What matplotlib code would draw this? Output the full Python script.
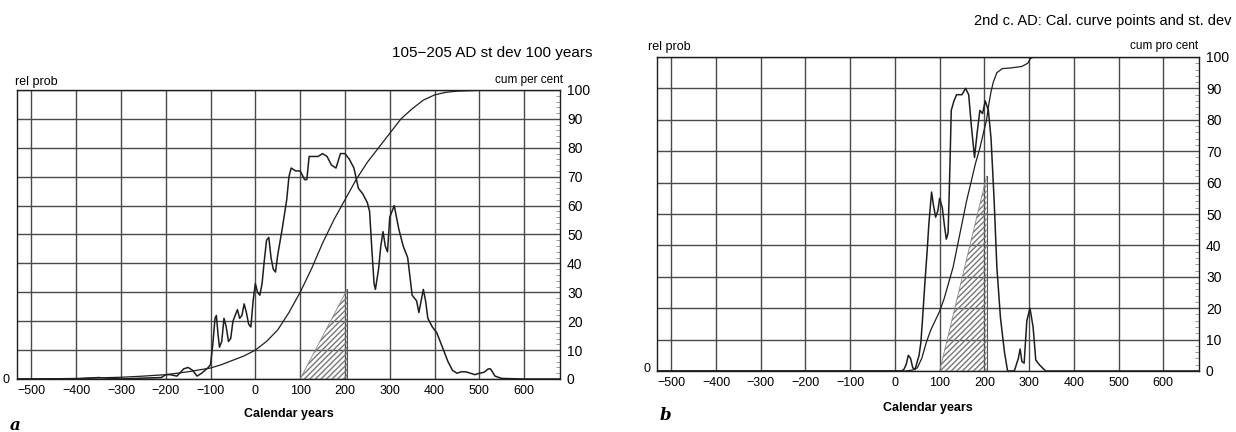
import numpy as np
import matplotlib.pyplot as plt
from matplotlib.ticker import MultipleLocator

plt.rcParams['font.family'] = ['Liberation Sans', 'DejaVu Sans']

# ---- panel a: 105-205 AD, st dev 100 years ----
a_years = [-530, -400, -350, -330, -300, -250, -210, -200, -190, -175, -160, -150, -140,
           -130, -120, -105, -100, -95, -90, -87, -83, -80, -75, -70, -65, -60, -55,
           -50, -40, -35, -30, -25, -20, -15, -10, -5, 0, 5, 10, 15, 20, 25, 30, 35,
           40, 45, 50, 60, 70, 75, 80, 90, 100, 110, 115, 120, 130, 140, 150, 160,
           170, 180, 190, 200, 210, 220, 230, 240, 250, 255, 260, 265, 268, 275, 280,
           285, 290, 295, 300, 310, 320, 330, 340, 350, 360, 365, 370, 375, 380, 385,
           395, 405, 420, 430, 440, 450, 460, 470, 490, 500, 510, 520, 525, 535, 550,
           600, 680]
a_prob = [0, 0, 0.5, 0.3, 0, 0.3, 0.5, 1.5, 1.5, 1, 3.5, 4, 3,
          1, 2, 4, 5, 12, 21, 22, 15, 11, 13, 21, 18, 13, 14,
          20, 24, 21, 22, 26, 23, 19, 18, 27, 33, 30, 29, 33, 41, 48, 49, 42,
          38, 37, 43, 52, 62, 70, 73, 72, 72, 69, 69, 77, 77, 77, 78, 77,
          74, 73, 78, 78, 76, 73, 66, 64, 61, 58, 45, 33, 31, 38, 46,
          51, 46, 44, 56, 60, 52, 46, 42, 29, 27, 23, 27, 31, 27, 21,
          18, 16, 10, 6, 3, 2, 2.5, 2.5, 1.5, 2, 2.3, 3.5, 3.5, 1, 0.2,
          0, 0]
a_cum_years = [-530, -450, -400, -350, -300, -250, -200, -150, -100, -75, -50, -25, 0,
               25, 50, 75, 100, 125, 150, 175, 200, 225, 250, 275, 300, 325, 350,
               375, 400, 425, 450, 500, 550, 680]
a_cum = [0, 0.1, 0.2, 0.4, 0.6, 1, 1.5, 2.5, 3.8, 5, 6.5, 8, 10,
         13, 17, 23, 30, 38, 47, 55, 62, 69, 75, 80, 85, 90, 93.5,
         96.5, 98.3, 99.2, 99.6, 99.9, 100, 100]
a_hatch_x = [100, 205]
a_hatch_top = [0, 31]

# ---- panel b: 2nd c. AD, cal. curve points and st. dev ----
b_years = [-530, 15, 20, 25, 30, 35, 40, 45, 50, 54, 58, 62, 67, 72, 76, 82, 86, 91,
           96, 100, 106, 111, 115, 119, 123, 126, 132, 138, 150, 158, 165, 171, 178,
           184, 190, 196, 202, 209, 215, 222, 228, 236, 245, 252, 267, 276, 280, 284,
           289, 295, 302, 309, 315, 323, 337, 680]
b_prob = [0, 0, 0.5, 2, 5, 4, 1, 0.5, 3, 5, 9, 17, 28, 38, 47, 57, 53, 49,
          51, 55, 52, 46, 42, 44, 65, 83, 86, 88, 88, 90, 88, 78, 68,
          76, 83, 82, 86, 83, 74, 54, 33, 17, 6, 0, 0, 4, 7, 3,
          2.5, 16, 20, 14, 3.5, 2, 0, 0]
b_cum_years = [-530, 23, 40, 50, 60, 70, 80, 90, 100, 110, 120, 130, 140, 150, 160,
               170, 180, 190, 200, 205, 210, 215, 220, 228, 240, 258, 275, 284, 297,
               303, 310, 400]
b_cum = [0, 0, 0.3, 1, 4, 9, 13, 16, 19, 23, 28, 33, 40, 47, 54,
         60, 66, 71, 77, 80, 85, 89, 92, 95, 96.3, 96.5, 96.8, 97, 98,
         99.5, 100, 100]
b_hatch_x = [100, 205]
b_hatch_top = [0, 62]

x_ticks = [-500, -400, -300, -200, -100, 0, 100, 200, 300, 400, 500, 600]

ink = '#1e1e1e'
grid_c = '#4a4a4a'

fig = plt.figure(figsize=(12.36, 4.32), dpi=100)


def draw_panel(ax, years, prob, cum_years, cum, hatch_x, hatch_top, xlabel_pad):
    ax.set_xlim(-532, 680)
    ax.set_ylim(0, 100)
    ax.set_xticks(x_ticks)
    ax.set_yticks(range(0, 101, 10))
    ax.grid(True, color=grid_c, linewidth=1.0)
    ax.set_axisbelow(True)

    # hatched interval
    ax.fill_between(hatch_x, 0, hatch_top, facecolor='none', edgecolor='#777777',
                    hatch='//////', linewidth=0)
    ax.plot(hatch_x, hatch_top, color='#888888', linewidth=0.6)
    ax.plot([hatch_x[-1], hatch_x[-1]], [0, hatch_top[-1]], color='#555555', linewidth=0.8)

    ax.plot(years, prob, color=ink, linewidth=1.1)
    ax.plot(cum_years, cum, color=ink, linewidth=0.9)

    ax.yaxis.tick_right()
    ax.yaxis.set_minor_locator(MultipleLocator(2))
    ax.tick_params(axis='y', which='major', length=0, labelsize=10, pad=5)
    ax.tick_params(axis='y', which='minor', direction='in', length=3, color='#888888')
    ax.tick_params(axis='x', length=0, labelsize=9, pad=4)
    for s in ax.spines.values():
        s.set_color(ink)
        s.set_linewidth(1.0)
    ax.set_xlabel('Calendar years', fontsize=9, fontweight='bold', labelpad=xlabel_pad)


# panel a
ax1 = fig.add_axes([17 / 1236, 1 - 379 / 432, 543 / 1236, 289 / 432])
draw_panel(ax1, a_years, a_prob, a_cum_years, a_cum, a_hatch_x, a_hatch_top, 8)
fig.text(593 / 1236, 1 - 53 / 432, '105\u2212205 AD st dev 100 years', ha='right',
         va='center', fontsize=11)
fig.text(563 / 1236, 1 - 80 / 432, 'cum per cent', ha='right', va='center', fontsize=8.5)
fig.text(15 / 1236, 1 - 82 / 432, 'rel prob', ha='left', va='center', fontsize=9)
fig.text(3 / 1236, 1 - 380 / 432, '0', ha='left', va='center', fontsize=9)
fig.text(10 / 1236, 1 - 425 / 432, 'a', ha='left', va='center', fontsize=12,
         family='DejaVu Serif', style='italic', fontweight='bold')

# panel b
ax2 = fig.add_axes([657 / 1236, 1 - 371 / 432, 542 / 1236, 314 / 432])
draw_panel(ax2, b_years, b_prob, b_cum_years, b_cum, b_hatch_x, b_hatch_top, 10)
fig.text(1232 / 1236, 1 - 21 / 432, '2nd c. AD: Cal. curve points and st. dev',
         ha='right', va='center', fontsize=10.5)
fig.text(1198 / 1236, 1 - 46 / 432, 'cum pro cent', ha='right', va='center', fontsize=8.5)
fig.text(648 / 1236, 1 - 47 / 432, 'rel prob', ha='left', va='center', fontsize=9)
fig.text(643 / 1236, 1 - 369 / 432, '0', ha='left', va='center', fontsize=9)
fig.text(660 / 1236, 1 - 415 / 432, 'b', ha='left', va='center', fontsize=12,
         family='DejaVu Serif', style='italic', fontweight='bold')

fig.savefig('out.png', dpi=100)
